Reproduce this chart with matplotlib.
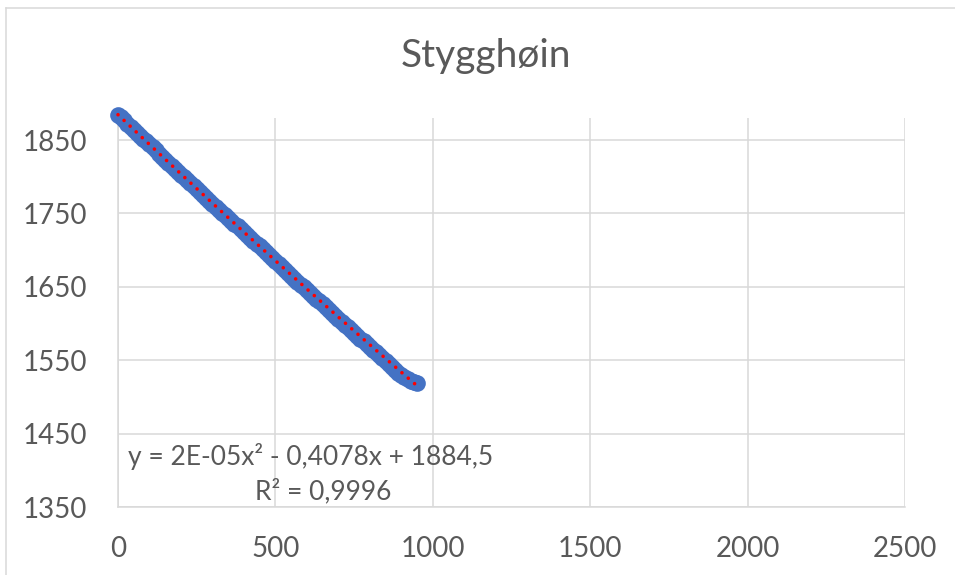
import matplotlib.pyplot as plt
import numpy as np
from matplotlib.lines import Line2D

plt.rcParams['font.family'] = ['Lato', 'DejaVu Sans']

# distance along the route and elevation
distance = [0, 10, 20, 30, 40, 50, 60, 70, 80, 90,
            100, 110, 120, 130, 140, 150, 160, 170, 180, 190,
            200, 210, 220, 230, 240, 250, 260, 270, 280, 290,
            300, 310, 320, 330, 340, 350, 360, 370, 380, 390,
            400, 410, 420, 430, 440, 450, 460, 470, 480, 490,
            500, 510, 520, 530, 540, 550, 560, 570, 580, 590,
            600, 610, 620, 630, 640, 650, 660, 670, 680, 690,
            700, 710, 720, 730, 740, 750, 760, 770, 780, 790,
            800, 810, 820, 830, 840, 850, 860, 870, 880, 890,
            900, 910, 920, 930, 940, 950]
elevation = [1884, 1881, 1877, 1872, 1868, 1864, 1860, 1856, 1852, 1848,
             1844, 1840, 1836, 1831, 1827, 1823, 1819, 1815, 1811, 1807,
             1803, 1799, 1795, 1791, 1787, 1783, 1779, 1775, 1771, 1767,
             1763, 1759, 1755, 1751, 1748, 1744, 1740, 1736, 1733, 1729,
             1725, 1721, 1717, 1713, 1709, 1705, 1701, 1697, 1693, 1689,
             1685, 1681, 1677, 1673, 1669, 1665, 1661, 1657, 1653, 1650,
             1646, 1642, 1638, 1634, 1630, 1626, 1622, 1618, 1614, 1610,
             1606, 1602, 1598, 1595, 1591, 1587, 1583, 1579, 1576, 1572,
             1568, 1564, 1561, 1557, 1553, 1549, 1545, 1541, 1537, 1533,
             1530, 1527, 1524, 1522, 1520, 1519]

# polynomial trendline coefficients as printed on the chart
trend_coef = [2e-05, -0.4078, 1884.5]
trend_label = "y = 2E-05x² - 0,4078x + 1884,5"
r2_label = "R² = 0,9996"

x_ticks = [0, 500, 1000, 1500, 2000, 2500]
y_ticks = [1350, 1450, 1550, 1650, 1750, 1850]

fig = plt.figure(figsize=(9.55, 5.75), dpi=100)
ax = fig.add_axes([118 / 955, 1 - 507 / 575, (905 - 118) / 955, (507 - 118) / 575])

grid_c = '#D9D9D9'
text_c = '#595959'

ax.scatter(distance, elevation, s=12 ** 2, color='#4472C4', linewidths=0,
           zorder=3, clip_on=False)

xs = np.linspace(0, max(distance), 200)
ax.plot(xs, np.polyval(trend_coef, xs), color='#FF0000', lw=2.6,
        linestyle=(0, (0.01, 2.3)), dash_capstyle='round', zorder=4, clip_on=False)

ax.set_xlim(0, 2500)
ax.set_ylim(1350, 1880)
ax.set_xticks(x_ticks)
ax.set_yticks(y_ticks)
ax.grid(True, color=grid_c, lw=1.1)
ax.set_axisbelow(True)
for side in ['top', 'right']:
    ax.spines[side].set_visible(False)
for side in ['left', 'bottom']:
    ax.spines[side].set_color(grid_c)
    ax.spines[side].set_linewidth(1.1)
ax.tick_params(length=0, labelsize=20, labelcolor=text_c)
ax.tick_params(axis='y', pad=22)
ax.tick_params(axis='x', pad=21)

fig.text(486 / 955, 1 - 56 / 575, "Stygghøin", ha='center', va='center',
         fontsize=28, color=text_c)
fig.text(128 / 955, 1 - 457 / 575, trend_label, ha='left', va='center',
         fontsize=19, color=text_c)
fig.text(323 / 955, 1 - 491 / 575, r2_label, ha='center', va='center',
         fontsize=19, color=text_c)

# chart area border (left and top edges visible)
fig.add_artist(Line2D([6 / 955, 6 / 955], [0, 1 - 8 / 575], color=grid_c, lw=1.1))
fig.add_artist(Line2D([6 / 955, 1], [1 - 8 / 575, 1 - 8 / 575], color=grid_c, lw=1.1))

fig.savefig('out.png', dpi=100)
